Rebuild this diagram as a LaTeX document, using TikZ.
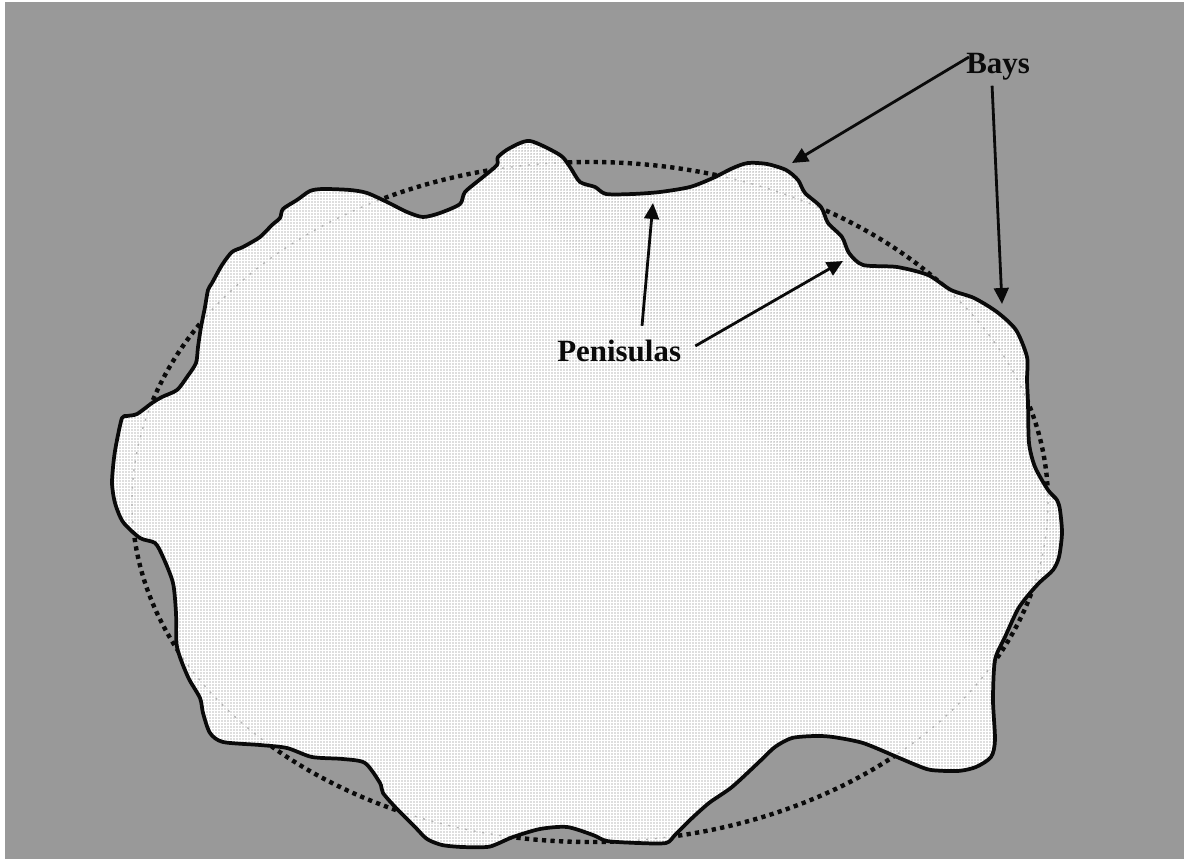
\documentclass[tikz,border=0pt]{standalone}
\usepackage{fontspec}
\setmainfont{Liberation Serif}
\usetikzlibrary{arrows.meta,patterns.meta,calc}
\definecolor{sea}{HTML}{999999}
\definecolor{ink}{HTML}{0A0A0A}
\def\coast{(114,458)(117,440)(122,418)(127,416)(137,414)(152,403)(162,397)(177,390)(187,377)(196,363)(198,347)(201,327)(205,307)(208,290)(212,283)(222,265)(232,252)(243,247)(260,237)(272,225)(280,218)(283,209)(297,200)(310,191)(323,189)(350,190)(367,193)(387,202)(407,212)(423,217)(440,213)(460,204)(465,192)(483,177)(497,165)(498,157)(510,148)(530,141)(560,155)(570,167)(580,182)(595,187)(606,194)(633,194)(660,192)(690,187)(713,178)(733,168)(748,163)(767,164)(786,170)(798,180)(805,193)(821,207)(828,223)(842,237)(849,253)(863,265)(897,267)(928,275)(951,290)(974,298)(997,312)(1016,330)(1027,357)(1027,380)(1028,403)(1029,443)(1035,467)(1048,490)(1057,500)(1060,510)(1062,533)(1059,557)(1053,570)(1040,582)(1030,593)(1018,609)(1005,637)(995,660)(993,700)(995,740)(991,757)(976,767)(958,771)(931,770)(916,765)(897,757)(863,743)(833,737)(815,736)(792,738)(775,747)(758,763)(732,787)(709,803)(690,820)(675,835)(666,843)(638,843)(607,841)(593,835)(567,827)(540,829)(513,837)(497,844)(487,847)(462,847)(442,845)(427,839)(415,827)(397,809)(383,793)(380,783)(365,763)(343,759)(312,757)(287,748)(260,745)(223,742)(210,733)(203,713)(200,698)(188,677)(177,647)(176,613)(173,583)(163,557)(155,543)(140,538)(123,522)(115,503)(112,483)}
\tikzset{
  x=0.75pt,y=-0.75pt,
  shoreline/.style={line width=2.8pt,draw=ink,line join=round},
  circleline/.style={draw=ink,line width=3.3pt,dash pattern=on 3.2pt off 3.2pt},
  faintline/.style={draw=black!30,line width=1pt,dash pattern=on 1.5pt off 5pt},
  pointer/.style={draw=ink,line width=2.1pt,-{Triangle[length=12pt,width=11pt]}},
  landlabel/.style={inner sep=0pt,font=\bfseries\fontsize{23.2}{26}\selectfont,text=ink,anchor=west},
}
\begin{document}
\begin{tikzpicture}
\useasboundingbox (0,0) rectangle (1186,859);
\fill[white] (0,0) rectangle (1186,859);
\fill[sea] (5,2) rectangle (1184,859);
% ideal circle
\draw[circleline] (590,502) ellipse [x radius=458,y radius=340];
% land
\fill[white] plot[smooth cycle,tension=0.45] coordinates {\coast};
\fill[pattern={Dots[distance=2.25pt,radius=0.55pt]},pattern color=black!55] plot[smooth cycle,tension=0.45] coordinates {\coast};
\begin{scope}
\clip plot[smooth cycle,tension=0.45] coordinates {\coast};
\draw[faintline] (590,502) ellipse [x radius=458,y radius=340];
\end{scope}
\draw[shoreline] plot[smooth cycle,tension=0.45] coordinates {\coast};
% labels
\node[landlabel] (bays) at (966,67) {Bays};
\node[landlabel] (pen) at (557,351) {Penisulas};
% targets
\coordinate (bayA) at (792,163);
\coordinate (bayB) at (1002,304);
\coordinate (penA) at (653,203);
\coordinate (penB) at (843,261);
\draw[pointer] ([shift={(3,-10)}]bays.west) -- (bayA);
\draw[pointer] ([shift={(-6,5)}]bays.south) -- (bayB);
\draw[pointer] ([shift={(85,-14)}]pen.north west) -- (penA);
\draw[pointer] ([shift={(14,-5)}]pen.east) -- (penB);
\end{tikzpicture}
\end{document}
